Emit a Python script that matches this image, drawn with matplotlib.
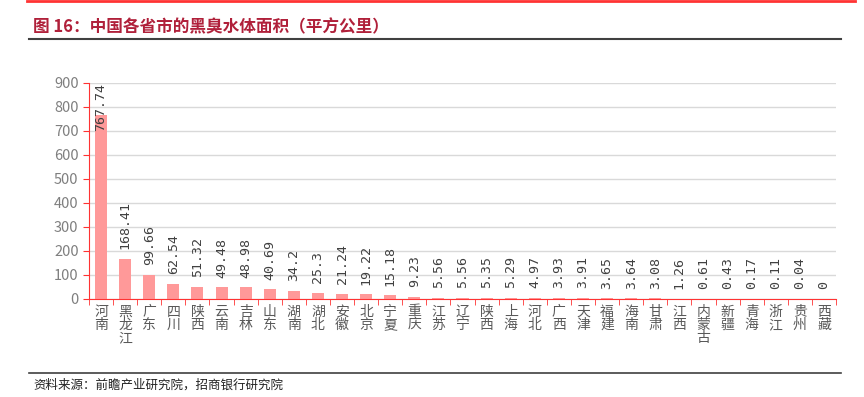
import numpy as np
import matplotlib.pyplot as plt
from matplotlib.lines import Line2D

plt.rcParams['font.family'] = ['Noto Sans CJK SC', 'DejaVu Sans']

provinces = ['河南', '黑龙江', '广东', '四川', '陕西', '云南', '吉林', '山东', '湖南', '湖北',
             '安徽', '北京', '宁夏', '重庆', '江苏', '辽宁', '陕西', '上海', '河北', '广西',
             '天津', '福建', '海南', '甘肃', '江西', '内蒙古', '新疆', '青海', '浙江', '贵州', '西藏']
area = [767.74, 168.41, 99.66, 62.54, 51.32, 49.48, 48.98, 40.69, 34.2, 25.3,
        21.24, 19.22, 15.18, 9.23, 5.56, 5.56, 5.35, 5.29, 4.97, 3.93,
        3.91, 3.65, 3.64, 3.08, 1.26, 0.61, 0.43, 0.17, 0.11, 0.04, 0]
yticks = [0, 100, 200, 300, 400, 500, 600, 700, 800, 900]

title = '图 16：中国各省市的黑臭水体面积（平方公里）'
source = '资料来源：前瞻产业研究院，招商银行研究院'

fig = plt.figure(figsize=(8.64, 3.97), dpi=100)

# header / footer decorations
fig.add_artist(Line2D([27/864, 855/864], [1 - 1/397, 1 - 1/397], color='#ff3333', lw=2))
fig.add_artist(Line2D([29/864, 841/864], [1 - 39/397, 1 - 39/397], color='#404040', lw=1.5))
fig.add_artist(Line2D([29/864, 841/864], [1 - 373/397, 1 - 373/397], color='#404040', lw=1.2))
fig.text(33/864, 1 - 27/397, title, fontsize=12, fontweight='bold', color='#b0203a', va='center')
fig.text(33/864, 1 - 385/397, source, fontsize=9, color='#222222', va='center')

ax = fig.add_axes([89/864, 1 - 299/397, (836 - 89)/864, (299 - 83)/397])
x = np.arange(len(provinces))
ax.bar(x, area, width=0.5, color='#ff9999', zorder=2)

ax.set_ylim(0, 900)
ax.set_xlim(-0.5, len(provinces) - 0.5)
ax.set_yticks(yticks)
ax.tick_params(axis='y', colors='#ff3333', labelcolor='#7f7f7f', labelsize=10.5, length=4, direction='out')
ax.grid(axis='y', color='#d9d9d9', lw=1, zorder=0)

ax.set_xticks(x)
ax.set_xticklabels(['\n'.join(p) for p in provinces], fontsize=10, color='#595959', linespacing=0.95)
ax.set_xticks(np.arange(len(provinces) + 1) - 0.5, minor=True)
ax.tick_params(axis='x', which='major', length=0, pad=4)
ax.tick_params(axis='x', which='minor', length=4, color='#ff3333')

for s in ['top', 'right']:
    ax.spines[s].set_visible(False)
ax.spines['left'].set_color('#ff3333')
ax.spines['bottom'].set_color('#ff3333')
ax.spines['bottom'].set_zorder(3)

for xi, v in zip(x, area):
    lab = '%g' % v
    kw = dict(rotation=90, ha='center', fontsize=9.5, color='#404040', family='DejaVu Sans Mono')
    if v + 200 > 900:
        ax.text(xi, 900, lab, va='top', **kw)
    else:
        ax.text(xi, v + 40, lab, va='bottom', **kw)

fig.savefig('out.png', dpi=100)
